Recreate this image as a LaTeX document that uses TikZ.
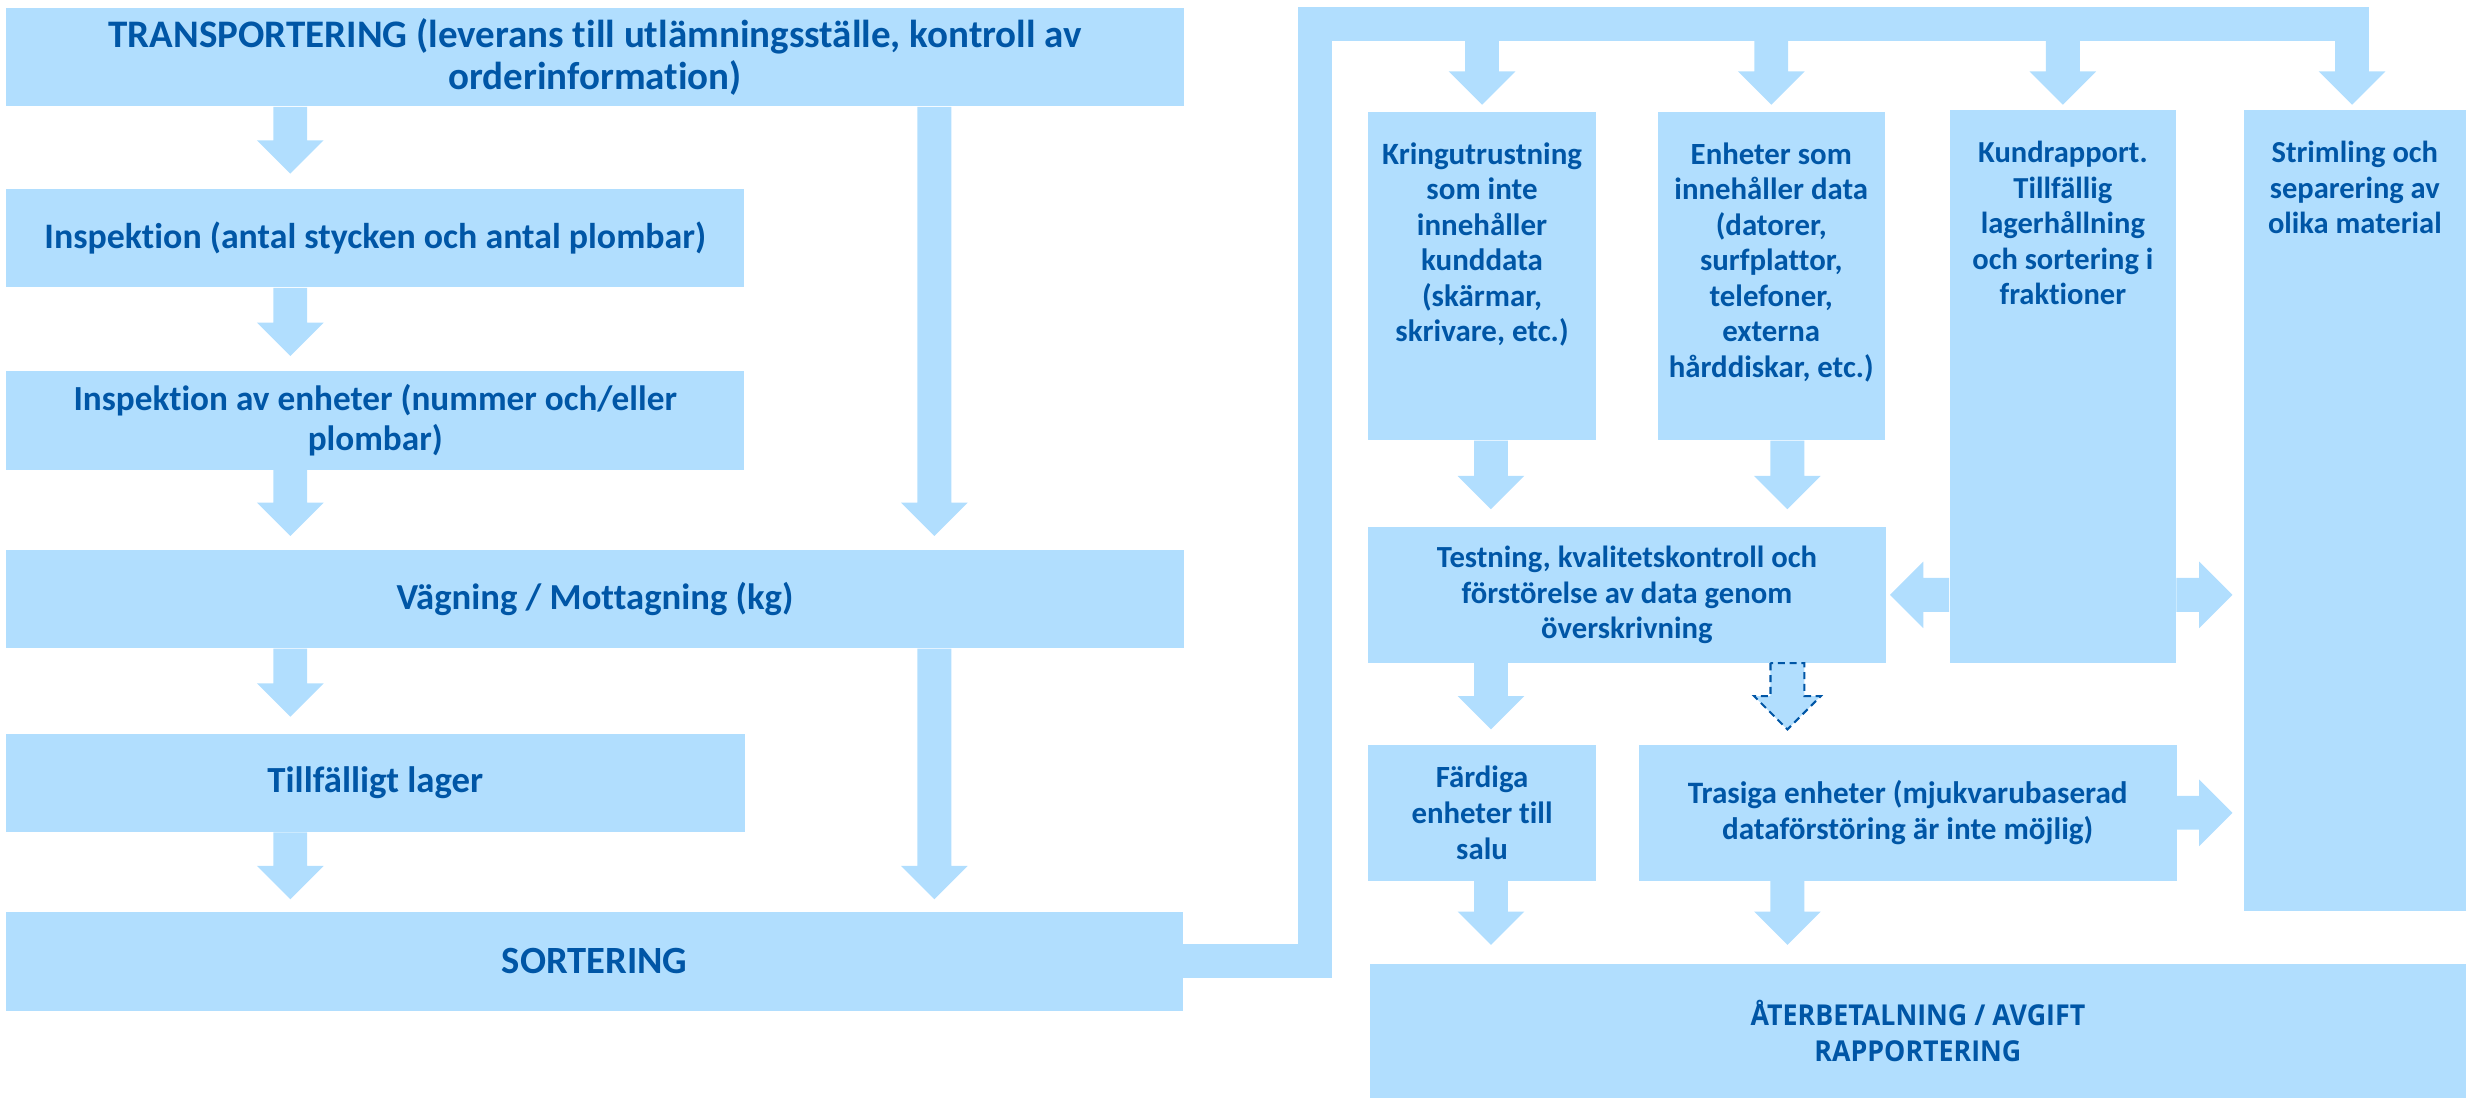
\documentclass[tikz,border=0pt]{standalone}
\usepackage{fontspec}
\setmainfont{Carlito}[Ligatures=NoCommon]
\newfontfamily\aterfont{Open Sans}[FakeStretch=0.93]
\usetikzlibrary{calc}
\definecolor{af}{RGB}{177,222,254}
\definecolor{tc}{RGB}{0,86,166}

\def\sh{10.75pt}
\def\hw{21.2pt}
\def\hl{21.2pt}

% vertical block arrow (down), #1 gap before target, #2 style, #3 start, #4 target
\newcommand\darrowx[4]{%
  \path[#2] let \p1=(#3), \p2=(#4) in
   (\x1-\sh,\y1) -- (\x1-\sh,\y2+#1pt+\hl) -- (\x1-\hw,\y2+#1pt+\hl) -- (\x1,\y2+#1pt)
   -- (\x1+\hw,\y2+#1pt+\hl) -- (\x1+\sh,\y2+#1pt+\hl) -- (\x1+\sh,\y1) -- cycle;}
\newcommand\darrow[3][9]{\darrowx{#1}{fill=af}{#2}{#3}}
\newcommand\rarrow[3][0]{%
  \fill[af] let \p1=(#2), \p2=(#3) in
   (\x1,\y1+\sh) -- (\x2-#1pt-\hl,\y1+\sh) -- (\x2-#1pt-\hl,\y1+\hw) -- (\x2-#1pt,\y1)
   -- (\x2-#1pt-\hl,\y1-\hw) -- (\x2-#1pt-\hl,\y1-\sh) -- (\x1,\y1-\sh) -- cycle;}
\newcommand\larrow[3][0]{%
  \fill[af] let \p1=(#2), \p2=(#3) in
   (\x1,\y1+\sh) -- (\x2+#1pt+\hl,\y1+\sh) -- (\x2+#1pt+\hl,\y1+\hw) -- (\x2+#1pt,\y1)
   -- (\x2+#1pt+\hl,\y1-\hw) -- (\x2+#1pt+\hl,\y1-\sh) -- (\x1,\y1-\sh) -- cycle;}
\newcommand\tbox[3]{\begin{minipage}[t][#2pt][t]{#1pt}\centering\rule{0pt}{33.3pt}#3\end{minipage}}

\tikzset{
  box/.style={fill=af, draw=none, inner sep=0pt, text=tc, align=center},
  tboxs/.style={fill=af, draw=none, inner sep=0pt, text=tc},
  fs/.style 2 args={font=\bfseries\fontsize{#1}{#2}\selectfont},
  abox/.style={fill=af, draw=none, inner sep=0pt, text=tc, align=center,
    font=\aterfont\bfseries\fontsize{18.3}{22.5}\selectfont},
  bus/.style={draw=af, line width=21.5pt},
  dash arrow/.style={fill=af, draw=tc, line width=1.3pt, dash pattern=on 4.5pt off 3pt},
}

\begin{document}
\begin{tikzpicture}[x=1pt,y=-1pt]
\useasboundingbox (0,0) rectangle (1568,698);

% columns
\coordinate (cL) at (184.6,0);
\coordinate (cR) at (594.1,0);
\coordinate (c1) at (948,0);
\coordinate (c2) at (1136.5,0);
\coordinate (c4) at (1495.5,0);
\coordinate (vbus) at (836.3,15.2);
\coordinate (busend) at (1506.3,15.2);

% left column
\node[box, fs={24.8}{26.6}, minimum width=749pt, minimum height=62.7pt] (T) at (378.45,36.35)
  {TRANSPORTERING (leverans till utlämningsställe, kontroll av\\orderinformation)};
\node[box, fs={22.8}{25.5}, minimum width=469.4pt, minimum height=62.5pt] (I1) at (238.6,151.55)
  {Inspektion (antal stycken och antal plombar)};
\node[box, fs={22.4}{25.5}, minimum width=469.4pt, minimum height=62.6pt] (I2) at (238.6,267.3)
  {Inspektion av enheter (nummer och/eller\\plombar)};
\node[box, fs={23.3}{26}, minimum width=748.8pt, minimum height=62.6pt] (V) at (378.3,381)
  {Vägning / Mottagning (kg)};
\node[box, fs={23.4}{26}, minimum width=469.5pt, minimum height=62.3pt] (TL) at (238.65,497.85)
  {Tillfälligt lager};
\node[box, fs={24.5}{26}, minimum width=748.4pt, minimum height=62.6pt] (S) at (378.1,611.3)
  {SORTERING};

\darrow[9.7]{T.south -| cL}{I1.north -| cL}
\darrow[9.4]{I1.south -| cL}{I2.north -| cL}
\darrow[8.7]{I2.south -| cL}{V.north -| cL}
\darrow[8.7]{T.south -| cR}{V.north -| cR}
\darrow[10.8]{V.south -| cL}{TL.north -| cL}
\darrow[8]{TL.south -| cL}{S.north -| cL}
\darrow[8]{V.south -| cR}{S.north -| cR}

% right side boxes
\node[tboxs, fs={19.7}{22.6}] (K) at (942.35,175.5)
  {\tbox{144.7}{209}{Kringutrustning\\som inte\\innehåller\\kunddata\\(skärmar,\\skrivare, etc.)}};
\node[tboxs, fs={19.6}{22.6}] (E) at (1126.25,175.5)
  {\tbox{144.5}{209}{Enheter som\\innehåller data\\(datorer,\\surfplattor,\\telefoner,\\externa\\hårddiskar, etc.)}};
\node[tboxs, fs={19.4}{22.6}] (Kd) at (1311.65,245.65)
  {\tbox{144.1}{351.3}{Kundrapport.\\Tillfällig\\lagerhållning\\och sortering i\\fraktioner}};
\node[tboxs, fs={19.4}{22.6}] (St) at (1497.3,324.5)
  {\tbox{141.4}{509}{Strimling och\\separering av\\olika material}};
\node[box, fs={19.5}{22.6}, minimum width=329pt, minimum height=86.5pt] (Te) at (1034.5,378.25)
  {Testning, kvalitetskontroll och\\förstörelse av data genom\\överskrivning};
\node[box, fs={19.6}{22.6}, minimum width=144.7pt, minimum height=86.4pt] (F) at (942.35,516.8)
  {Färdiga\\enheter till\\salu};
\node[box, fs={19.8}{22.6}, minimum width=342pt, minimum height=86.4pt] (Tr) at (1213,516.8)
  {Trasiga enheter (mjukvarubaserad\\dataförstöring är inte möjlig)};
\node[abox, minimum width=697pt, minimum height=85pt] (A) at (1219.5,655.5)
  {ÅTERBETALNING / AVGIFT\\RAPPORTERING};

% bus from SORTERING
\draw[bus] (S.east) -- (S.east -| vbus) -- (vbus) -- (busend);
\darrow[4.2]{vbus -| K.north}{K.north}
\darrow[4.2]{vbus -| E.north}{E.north}
\darrow[3.2]{vbus -| Kd.north}{Kd.north}
\darrow[3.2]{vbus -| c4}{St.north -| c4}

% inner arrows
\darrow[11]{K.south -| c1}{Te.north -| c1}
\darrow[11]{E.south -| c2}{Te.north -| c2}
\darrow[9.6]{Te.south -| c1}{F.north -| c1}
\darrowx{9.6}{dash arrow}{Te.south -| c2}{Tr.north -| c2}
\darrow[12]{F.south -| c1}{A.north -| c1}
\darrow[12]{Tr.south -| c2}{A.north -| c2}

\larrow[2.6]{Kd.west |- Te.east}{Te.east}
\rarrow[6.9]{Kd.east |- Te.east}{St.west |- Te.east}
\rarrow[6.9]{Tr.east}{St.west |- Tr.east}
\end{tikzpicture}
\end{document}
